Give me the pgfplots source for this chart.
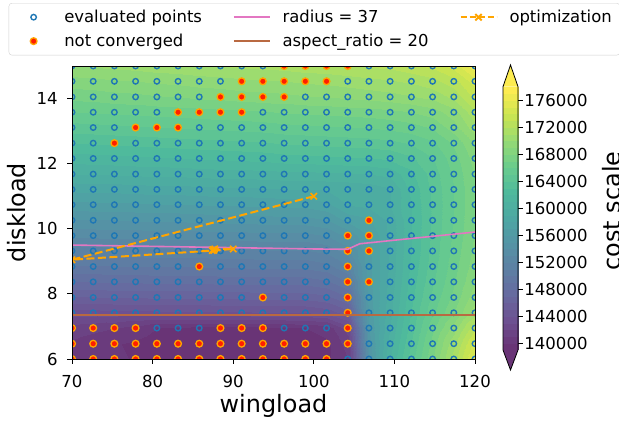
\documentclass[border=0pt]{standalone}
\usepackage{fontspec}
\setmainfont{DejaVu Sans}
\usepackage{pgfplots}
\usepackage{pgfplotstable}
\pgfplotsset{compat=1.18}

\definecolor{tabblue}{RGB}{31,119,180}
\definecolor{tabpink}{RGB}{227,119,194}
\definecolor{arbrown}{RGB}{185,105,65}
\definecolor{optorange}{RGB}{255,165,0}
\definecolor{ncred}{RGB}{255,30,0}
\definecolor{virlmin}{RGB}{105,52,118}
\definecolor{virlmax}{RGB}{253,236,81}

% viridis seen through alpha=0.8 on white
\pgfplotsset{
  colormap={virl}{rgb255=(105,52,118) rgb255=(109,80,145) rgb255=(103,105,159)
    rgb255=(93,127,164) rgb255=(85,147,165) rgb255=(77,167,163) rgb255=(78,185,157)
    rgb255=(105,204,141) rgb255=(149,218,116) rgb255=(202,229,81) rgb255=(253,236,81)},
  colormap={virband}{samples of colormap=(39 of virl)},
  leg line/.style={legend image code/.code={\draw[##1] (0bp,0bp) -- (36bp,0bp);}},
  leg mark/.style={legend image code/.code={\path (0bp,0bp) (36bp,0bp);
      \draw[##1] plot coordinates {(18bp,0bp)};}},
  leg both/.style={legend image code/.code={\draw[##1] (0bp,0bp) -- (36bp,0bp);
      \draw[##1,solid] plot coordinates {(18bp,0bp)};}},
}

% cost on the 20 x 20 evaluation grid
\pgfplotstableread[row sep=\\]{
x y z\\
70 6 141000\\ 72.63 6 140600\\ 75.26 6 140200\\ 77.89 6 139900\\ 80.53 6 139500\\ 83.16 6 139400\\ 85.79 6 139400\\ 88.42 6 139400\\ 91.05 6 139400\\ 93.68 6 139400\\ 96.32 6 139400\\ 98.95 6 139500\\ 101.58 6 139800\\ 104.21 6 141000\\ 106.84 6 155000\\ 109.47 6 161000\\ 112.11 6 164500\\ 114.74 6 168000\\ 117.37 6 171500\\ 120 6 175500\\
70 6.47 140800\\ 72.63 6.47 140400\\ 75.26 6.47 140100\\ 77.89 6.47 139800\\ 80.53 6.47 139400\\ 83.16 6.47 139300\\ 85.79 6.47 139300\\ 88.42 6.47 139300\\ 91.05 6.47 139300\\ 93.68 6.47 139300\\ 96.32 6.47 139300\\ 98.95 6.47 139400\\ 101.58 6.47 139800\\ 104.21 6.47 141500\\ 106.84 6.47 155500\\ 109.47 6.47 160500\\ 112.11 6.47 164000\\ 114.74 6.47 167500\\ 117.37 6.47 170800\\ 120 6.47 174500\\
70 6.95 141600\\ 72.63 6.95 141300\\ 75.26 6.95 141000\\ 77.89 6.95 140600\\ 80.53 6.95 140000\\ 83.16 6.95 139800\\ 85.79 6.95 139700\\ 88.42 6.95 139700\\ 91.05 6.95 139700\\ 93.68 6.95 139700\\ 96.32 6.95 139800\\ 98.95 6.95 140000\\ 101.58 6.95 140400\\ 104.21 6.95 142500\\ 106.84 6.95 156000\\ 109.47 6.95 160000\\ 112.11 6.95 163500\\ 114.74 6.95 166800\\ 117.37 6.95 169500\\ 120 6.95 172800\\
70 7.42 143500\\ 72.63 7.42 143500\\ 75.26 7.42 143600\\ 77.89 7.42 143600\\ 80.53 7.42 143700\\ 83.16 7.42 143700\\ 85.79 7.42 143700\\ 88.42 7.42 143800\\ 91.05 7.42 143800\\ 93.68 7.42 143900\\ 96.32 7.42 143900\\ 98.95 7.42 143900\\ 101.58 7.42 144300\\ 104.21 7.42 145500\\ 106.84 7.42 156300\\ 109.47 7.42 159700\\ 112.11 7.42 163000\\ 114.74 7.42 165800\\ 117.37 7.42 168000\\ 120 7.42 170600\\
70 7.89 146000\\ 72.63 7.89 146000\\ 75.26 7.89 146100\\ 77.89 7.89 146100\\ 80.53 7.89 146200\\ 83.16 7.89 146200\\ 85.79 7.89 146200\\ 88.42 7.89 146300\\ 91.05 7.89 146300\\ 93.68 7.89 146400\\ 96.32 7.89 146400\\ 98.95 7.89 146400\\ 101.58 7.89 146800\\ 104.21 7.89 148000\\ 106.84 7.89 156500\\ 109.47 7.89 159500\\ 112.11 7.89 162700\\ 114.74 7.89 165300\\ 117.37 7.89 167300\\ 120 7.89 169600\\
70 8.37 148000\\ 72.63 8.37 148000\\ 75.26 8.37 148100\\ 77.89 8.37 148100\\ 80.53 8.37 148200\\ 83.16 8.37 148200\\ 85.79 8.37 148200\\ 88.42 8.37 148300\\ 91.05 8.37 148300\\ 93.68 8.37 148400\\ 96.32 8.37 148400\\ 98.95 8.37 148400\\ 101.58 8.37 148800\\ 104.21 8.37 150000\\ 106.84 8.37 156600\\ 109.47 8.37 159300\\ 112.11 8.37 162400\\ 114.74 8.37 164900\\ 117.37 8.37 166900\\ 120 8.37 169000\\
70 8.84 149800\\ 72.63 8.84 149800\\ 75.26 8.84 149900\\ 77.89 8.84 149900\\ 80.53 8.84 150000\\ 83.16 8.84 150000\\ 85.79 8.84 150000\\ 88.42 8.84 150100\\ 91.05 8.84 150100\\ 93.68 8.84 150200\\ 96.32 8.84 150200\\ 98.95 8.84 150200\\ 101.58 8.84 150600\\ 104.21 8.84 151800\\ 106.84 8.84 156700\\ 109.47 8.84 159200\\ 112.11 8.84 162200\\ 114.74 8.84 164600\\ 117.37 8.84 166600\\ 120 8.84 168600\\
70 9.32 151500\\ 72.63 9.32 151500\\ 75.26 9.32 151600\\ 77.89 9.32 151600\\ 80.53 9.32 151700\\ 83.16 9.32 151700\\ 85.79 9.32 151700\\ 88.42 9.32 151800\\ 91.05 9.32 151800\\ 93.68 9.32 151900\\ 96.32 9.32 151900\\ 98.95 9.32 151900\\ 101.58 9.32 152300\\ 104.21 9.32 153500\\ 106.84 9.32 156800\\ 109.47 9.32 159200\\ 112.11 9.32 162000\\ 114.74 9.32 164400\\ 117.37 9.32 166400\\ 120 9.32 168300\\
70 9.79 153200\\ 72.63 9.79 153200\\ 75.26 9.79 153300\\ 77.89 9.79 153300\\ 80.53 9.79 153400\\ 83.16 9.79 153400\\ 85.79 9.79 153400\\ 88.42 9.79 153500\\ 91.05 9.79 153500\\ 93.68 9.79 153600\\ 96.32 9.79 153600\\ 98.95 9.79 153600\\ 101.58 9.79 154000\\ 104.21 9.79 155200\\ 106.84 9.79 156900\\ 109.47 9.79 159200\\ 112.11 9.79 161900\\ 114.74 9.79 164300\\ 117.37 9.79 166200\\ 120 9.79 168100\\
70 10.26 154900\\ 72.63 10.26 155000\\ 75.26 10.26 155000\\ 77.89 10.26 155100\\ 80.53 10.26 155200\\ 83.16 10.26 155200\\ 85.79 10.26 155300\\ 88.42 10.26 155400\\ 91.05 10.26 155400\\ 93.68 10.26 155500\\ 96.32 10.26 155600\\ 98.95 10.26 155600\\ 101.58 10.26 156000\\ 104.21 10.26 157300\\ 106.84 10.26 157800\\ 109.47 10.26 159300\\ 112.11 10.26 161900\\ 114.74 10.26 164200\\ 117.37 10.26 166100\\ 120 10.26 168000\\
70 10.74 156600\\ 72.63 10.74 156700\\ 75.26 10.74 156700\\ 77.89 10.74 156800\\ 80.53 10.74 156900\\ 83.16 10.74 156900\\ 85.79 10.74 157000\\ 88.42 10.74 157100\\ 91.05 10.74 157100\\ 93.68 10.74 157200\\ 96.32 10.74 157300\\ 98.95 10.74 157300\\ 101.58 10.74 157700\\ 104.21 10.74 159000\\ 106.84 10.74 159300\\ 109.47 10.74 160000\\ 112.11 10.74 162000\\ 114.74 10.74 164200\\ 117.37 10.74 166000\\ 120 10.74 168000\\
70 11.21 158300\\ 72.63 11.21 158400\\ 75.26 11.21 158400\\ 77.89 11.21 158500\\ 80.53 11.21 158600\\ 83.16 11.21 158600\\ 85.79 11.21 158700\\ 88.42 11.21 158800\\ 91.05 11.21 158800\\ 93.68 11.21 158900\\ 96.32 11.21 159000\\ 98.95 11.21 159000\\ 101.58 11.21 159100\\ 104.21 11.21 159200\\ 106.84 11.21 159400\\ 109.47 11.21 159900\\ 112.11 11.21 162200\\ 114.74 11.21 164300\\ 117.37 11.21 166000\\ 120 11.21 168000\\
70 11.68 160000\\ 72.63 11.68 160100\\ 75.26 11.68 160100\\ 77.89 11.68 160200\\ 80.53 11.68 160300\\ 83.16 11.68 160300\\ 85.79 11.68 160400\\ 88.42 11.68 160500\\ 91.05 11.68 160500\\ 93.68 11.68 160600\\ 96.32 11.68 160700\\ 98.95 11.68 160700\\ 101.58 11.68 160800\\ 104.21 11.68 160900\\ 106.84 11.68 161000\\ 109.47 11.68 161300\\ 112.11 11.68 162700\\ 114.74 11.68 164500\\ 117.37 11.68 166200\\ 120 11.68 168100\\
70 12.16 161500\\ 72.63 12.16 161600\\ 75.26 12.16 161700\\ 77.89 12.16 161800\\ 80.53 12.16 161900\\ 83.16 12.16 162000\\ 85.79 12.16 162100\\ 88.42 12.16 162200\\ 91.05 12.16 162300\\ 93.68 12.16 162400\\ 96.32 12.16 162600\\ 98.95 12.16 162700\\ 101.58 12.16 162800\\ 104.21 12.16 162900\\ 106.84 12.16 163000\\ 109.47 12.16 163200\\ 112.11 12.16 163800\\ 114.74 12.16 165000\\ 117.37 12.16 166600\\ 120 12.16 168500\\
70 12.63 163000\\ 72.63 12.63 163100\\ 75.26 12.63 163200\\ 77.89 12.63 163300\\ 80.53 12.63 163400\\ 83.16 12.63 163500\\ 85.79 12.63 163600\\ 88.42 12.63 163700\\ 91.05 12.63 163800\\ 93.68 12.63 163900\\ 96.32 12.63 164100\\ 98.95 12.63 164200\\ 101.58 12.63 164300\\ 104.21 12.63 164400\\ 106.84 12.63 164500\\ 109.47 12.63 164700\\ 112.11 12.63 165100\\ 114.74 12.63 165800\\ 117.37 12.63 167200\\ 120 12.63 169100\\
70 13.11 164500\\ 72.63 13.11 164600\\ 75.26 13.11 164700\\ 77.89 13.11 164800\\ 80.53 13.11 164900\\ 83.16 13.11 165000\\ 85.79 13.11 165100\\ 88.42 13.11 165200\\ 91.05 13.11 165300\\ 93.68 13.11 165400\\ 96.32 13.11 165600\\ 98.95 13.11 165700\\ 101.58 13.11 165800\\ 104.21 13.11 165900\\ 106.84 13.11 166000\\ 109.47 13.11 166200\\ 112.11 13.11 166500\\ 114.74 13.11 167100\\ 117.37 13.11 168500\\ 120 13.11 170600\\
70 13.58 166000\\ 72.63 13.58 166100\\ 75.26 13.58 166200\\ 77.89 13.58 166300\\ 80.53 13.58 166400\\ 83.16 13.58 166500\\ 85.79 13.58 166600\\ 88.42 13.58 166700\\ 91.05 13.58 166800\\ 93.68 13.58 166900\\ 96.32 13.58 167100\\ 98.95 13.58 167200\\ 101.58 13.58 167300\\ 104.21 13.58 167400\\ 106.84 13.58 167500\\ 109.47 13.58 167700\\ 112.11 13.58 168000\\ 114.74 13.58 168500\\ 117.37 13.58 169600\\ 120 13.58 171800\\
70 14.05 167300\\ 72.63 14.05 167400\\ 75.26 14.05 167600\\ 77.89 14.05 167700\\ 80.53 14.05 167900\\ 83.16 14.05 168000\\ 85.79 14.05 168200\\ 88.42 14.05 168300\\ 91.05 14.05 168500\\ 93.68 14.05 168600\\ 96.32 14.05 168700\\ 98.95 14.05 168900\\ 101.58 14.05 169000\\ 104.21 14.05 169200\\ 106.84 14.05 169400\\ 109.47 14.05 169600\\ 112.11 14.05 169900\\ 114.74 14.05 170300\\ 117.37 14.05 171300\\ 120 14.05 173300\\
70 14.53 168600\\ 72.63 14.53 168700\\ 75.26 14.53 168900\\ 77.89 14.53 169000\\ 80.53 14.53 169200\\ 83.16 14.53 169300\\ 85.79 14.53 169500\\ 88.42 14.53 169600\\ 91.05 14.53 169800\\ 93.68 14.53 169900\\ 96.32 14.53 170000\\ 98.95 14.53 170200\\ 101.58 14.53 170300\\ 104.21 14.53 170500\\ 106.84 14.53 170700\\ 109.47 14.53 170900\\ 112.11 14.53 171200\\ 114.74 14.53 171700\\ 117.37 14.53 172600\\ 120 14.53 174600\\
70 15 170000\\ 72.63 15 170100\\ 75.26 15 170300\\ 77.89 15 170400\\ 80.53 15 170600\\ 83.16 15 170700\\ 85.79 15 170900\\ 88.42 15 171000\\ 91.05 15 171200\\ 93.68 15 171300\\ 96.32 15 171400\\ 98.95 15 171600\\ 101.58 15 171700\\ 104.21 15 171900\\ 106.84 15 172100\\ 109.47 15 172300\\ 112.11 15 172700\\ 114.74 15 173300\\ 117.37 15 174500\\ 120 15 176800\\
}\cost

\begin{document}
\begin{tikzpicture}[x=1bp,y=1bp]
\begin{axis}[
  at={(72bp,64bp)}, anchor=south west,
  scale only axis, width=403bp, height=293bp,
  xmin=70, xmax=120, ymin=6, ymax=15,
  xtick={70,80,...,120}, ytick={6,8,...,14},
  tick align=outside, xtick pos=left, ytick pos=left,
  major tick length=4.9bp,
  tick style={black, line width=0.8bp},
  axis line style={line width=0.8bp},
  axis on top,
  clip marker paths=true,
  colormap name=virband, colormap access=piecewise constant,
  point meta min=139000, point meta max=178000,
  ticklabel style={font=\fontsize{16.6}{19}\selectfont, /pgf/number format/assume math mode=true},
  xticklabel style={yshift=-7.5bp},
  yticklabel style={xshift=-6bp},
  every axis x label/.style={at={(axis description cs:0.5,0)}, anchor=base, yshift=-53bp,
    font=\fontsize{24}{28}\selectfont},
  every axis y label/.style={at={(axis description cs:0,0.5)}, anchor=base, xshift=-46bp, rotate=90,
    font=\fontsize{24}{28}\selectfont},
  xlabel={wingload}, ylabel={diskload},
  colorbar,
  colorbar style={
    at={(parent axis.south east)}, anchor=south west, xshift=19.5bp, yshift=9bp,
    scale only axis, width=15bp, height=263.3bp,
    ytick={140000,144000,...,176000}, scaled y ticks=false,
    ytick pos=right, yticklabel pos=right,
    tick align=outside, major tick length=4.9bp,
    tick style={black, line width=0.8bp},
    yticklabel style={font=\fontsize{16.6}{19}\selectfont, xshift=-2bp,
      /pgf/number format/fixed, /pgf/number format/1000 sep={},
      /pgf/number format/assume math mode=true},
    axis line style={draw=none},
    clip=false,
    after end axis/.code={
      \fill[virlmax] (rel axis cs:0,1) -- (rel axis cs:0.5,1.0825) -- (rel axis cs:1,1) -- cycle;
      \fill[virlmin] (rel axis cs:0,0) -- (rel axis cs:0.5,-0.076) -- (rel axis cs:1,0) -- cycle;
      \draw[line width=0.8bp] (rel axis cs:0,0) -- (rel axis cs:0.5,-0.076) -- (rel axis cs:1,0)
        -- (rel axis cs:1,1) -- (rel axis cs:0.5,1.0825) -- (rel axis cs:0,1) -- cycle;
    },
  },
  legend columns=3, legend cell align=left,
  legend style={
    at={(axis description cs:-0.157,1.215)}, anchor=north west,
    draw=black!18, rounded corners=3bp, fill=white,
    font=\fontsize{16.5}{19.8}\selectfont,
    inner xsep=6bp, inner ysep=5bp, row sep=6bp, column sep=10bp,
    /tikz/every even column/.append style={column sep=29bp},
  },
]
\addlegendimage{leg mark, only marks, mark=o, mark size=2.75bp, line width=1.4bp, tabblue}
\addlegendentry{evaluated points}
\addlegendimage{leg line, tabpink, line width=1.6bp}
\addlegendentry{radius = 37}
\addlegendimage{leg both, optorange, line width=2bp, dash pattern=on 6bp off 3bp,
  mark=x, mark size=4.5bp, mark options={solid}}
\addlegendentry{optimization}
\addlegendimage{leg mark, only marks, mark=*, mark size=3.4bp,
  mark options={draw=optorange, fill=ncred, line width=1.3bp}}
\addlegendentry{not converged}
\addlegendimage{leg line, arbrown, line width=1.6bp}
\addlegendentry{aspect\_ratio = 20}

% filled cost map
\addplot[surf, shader=interp, mesh/cols=20, point meta=explicit, forget plot]
  table[x=x, y=y, meta=z] {\cost};

% evaluated grid
\addplot[only marks, mark=o, mark size=2.75bp, line width=1.4bp, tabblue, forget plot]
  table[x=x, y=y] {\cost};

% not converged runs
\addplot[only marks, mark=*, mark size=3.4bp,
  mark options={draw=optorange, fill=ncred, line width=1.3bp}, forget plot] coordinates {
  (70,6) (72.63,6) (75.26,6) (77.89,6) (80.53,6) (83.16,6) (85.79,6) (88.42,6) (91.05,6)
  (93.68,6) (96.32,6) (98.95,6) (101.58,6)
  (70,6.47) (72.63,6.47) (75.26,6.47) (77.89,6.47) (80.53,6.47) (83.16,6.47) (85.79,6.47)
  (88.42,6.47) (91.05,6.47) (93.68,6.47) (96.32,6.47) (98.95,6.47) (101.58,6.47) (104.21,6.47)
  (70,6.95) (72.63,6.95) (75.26,6.95) (77.89,6.95) (88.42,6.95) (91.05,6.95) (93.68,6.95) (104.21,6.95)
  (104.21,7.42)
  (93.68,7.89) (104.21,7.89)
  (104.21,8.37) (106.84,8.37)
  (85.79,8.84) (104.21,8.84)
  (104.21,9.32) (106.84,9.32)
  (104.21,9.79) (106.84,9.79)
  (106.84,10.26)
  (75.26,12.63)
  (77.89,13.11) (80.53,13.11) (83.16,13.11)
  (83.16,13.58) (85.79,13.58) (88.42,13.58) (91.05,13.58)
  (88.42,14.05) (91.05,14.05) (93.68,14.05) (96.32,14.05)
  (91.05,14.53) (93.68,14.53) (96.32,14.53) (98.95,14.53) (101.58,14.53)
  (96.32,15) (98.95,15) (101.58,15) (104.21,15)
};

% radius = 37
\addplot[tabpink, line width=1.6bp, forget plot] coordinates {
  (70,9.50) (85,9.44) (100,9.38) (104.2,9.37) (105.7,9.54) (112,9.70) (120,9.90)};

% aspect_ratio = 20
\addplot[arbrown, line width=1.6bp, forget plot] coordinates {(70,7.36) (120,7.36)};

% optimization path
\addplot[optorange, line width=2bp, dash pattern=on 8bp off 3.5bp, mark=x, mark size=4.5bp,
  mark options={solid, line width=1.6bp}, forget plot] coordinates {
  (100,11.0) (70,9.05) (87.4,9.33) (90,9.38) (87.7,9.38) (87.5,9.36) (87.6,9.34)};
\end{axis}
\node[rotate=90, anchor=base, font=\fontsize{24}{28}\selectfont] at (620.7bp,212bp) {cost scale};
\pgfresetboundingbox
\path[use as bounding box] (0bp,0bp) rectangle (619bp,423bp);
\end{tikzpicture}
\end{document}
